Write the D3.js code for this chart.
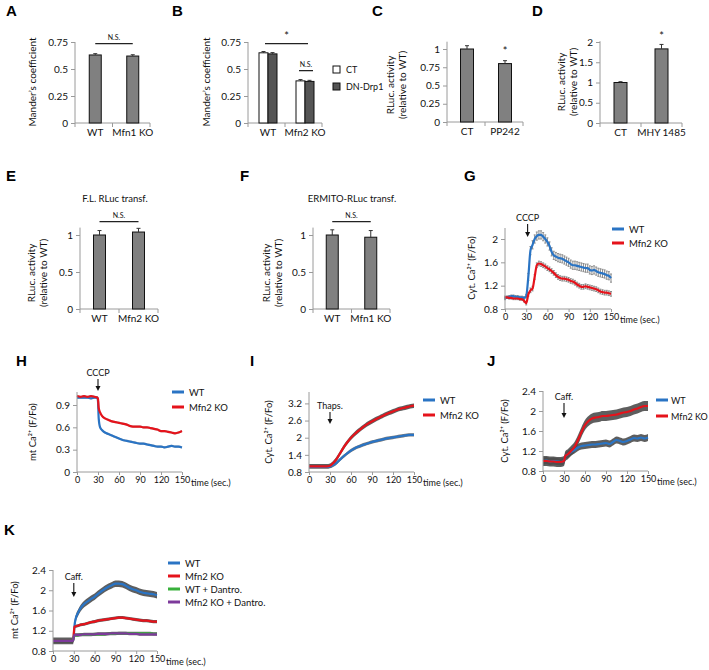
<!DOCTYPE html>
<html><head><meta charset="utf-8">
<script src="https://cdn.jsdelivr.net/npm/d3@7"></script>
<style>body{margin:0;background:#fff}</style>
</head><body><svg id="c" width="709" height="670"></svg>
<script>
// ---------------- DATA ----------------
const catsA = ["WT", "Mfn1 KO"], valsA = [0.63, 0.62], errA = [0.012, 0.012];
const catsB = ["WT", "Mfn2 KO"], groupsB = ["CT", "DN-Drp1"];
const valsB_CT = [0.65, 0.39], errB_CT = [0.012, 0.012];
const valsB_DN = [0.64, 0.385], errB_DN = [0.012, 0.01];
const catsC = ["CT", "PP242"], valsC = [1.0, 0.80], errC = [0.045, 0.04];
const catsD = ["CT", "MHY 1485"], valsD = [1.0, 1.83], errD = [0.02, 0.11];
const catsE = ["WT", "Mfn2 KO"], valsE = [1.0, 1.04], errE = [0.06, 0.05];
const catsF = ["WT", "Mfn1 KO"], valsF = [1.0, 0.97], errF = [0.07, 0.09];
const ticksA = [0, 0.25, 0.5, 0.75], ticksC = [0, 0.25, 0.5, 0.75, 1], ticksD = [0, 0.5, 1, 1.5, 2], ticksE = [0, 0.5, 1];
const timeTicks = [0, 30, 60, 90, 120, 150];

// G : cytosolic Ca2+ after CCCP
const tG = [0,3,6,9,12,15,18,21,24,27,30,33,36,39,42,45,48,51,54,57,60,63,66,69,72,75,78,81,84,87,90,93,96,99,102,105,108,111,114,117,120,123,126,129,132,135,138,141,144,147,150];
const wtG = [0.98,1.0,1.01,1.02,1.02,1.01,1.01,1.0,1.0,0.99,1.02,1.35,1.8,1.9,2.0,2.05,2.07,2.07,2.04,2.0,1.95,1.88,1.78,1.72,1.7,1.68,1.67,1.66,1.64,1.62,1.6,1.57,1.55,1.55,1.54,1.53,1.52,1.51,1.5,1.5,1.47,1.46,1.47,1.45,1.43,1.42,1.41,1.4,1.38,1.37,1.33];
const wtGerr = [0.02,0.02,0.02,0.02,0.02,0.02,0.02,0.02,0.02,0.02,0.03,0.06,0.07,0.07,0.07,0.07,0.07,0.07,0.07,0.07,0.07,0.07,0.07,0.07,0.07,0.07,0.07,0.07,0.07,0.07,0.07,0.07,0.07,0.07,0.07,0.07,0.07,0.07,0.07,0.07,0.07,0.07,0.07,0.07,0.07,0.07,0.07,0.07,0.07,0.07,0.07];
const koG = [1.0,1.0,0.99,0.99,0.98,0.98,0.98,0.97,0.97,0.94,0.9,1.05,1.12,1.15,1.35,1.55,1.58,1.57,1.55,1.53,1.5,1.48,1.45,1.42,1.38,1.35,1.33,1.32,1.32,1.31,1.3,1.28,1.27,1.25,1.22,1.2,1.18,1.18,1.19,1.18,1.17,1.16,1.15,1.14,1.12,1.1,1.09,1.08,1.08,1.07,1.06];
const koGerr = [0.02,0.02,0.02,0.02,0.02,0.02,0.02,0.02,0.02,0.02,0.03,0.03,0.04,0.04,0.04,0.04,0.04,0.04,0.04,0.04,0.04,0.04,0.04,0.04,0.04,0.04,0.04,0.04,0.04,0.04,0.04,0.04,0.04,0.04,0.04,0.04,0.04,0.04,0.04,0.04,0.04,0.04,0.04,0.04,0.04,0.04,0.04,0.04,0.04,0.04,0.04];

// H : mitochondrial Ca2+ after CCCP
const tH = [0,5,10,15,20,25,29,30,31,33,36,40,45,50,55,60,65,70,75,80,85,90,95,100,105,110,115,120,125,130,135,140,145,150];
const wtH = [1.0,1.0,1.0,1.0,0.99,1.0,1.0,0.95,0.72,0.6,0.56,0.53,0.51,0.49,0.47,0.45,0.43,0.42,0.41,0.4,0.39,0.38,0.38,0.37,0.36,0.35,0.34,0.34,0.33,0.34,0.35,0.34,0.34,0.33];
const koH = [1.02,1.01,1.02,1.01,1.02,1.01,1.0,0.98,0.86,0.8,0.75,0.72,0.7,0.68,0.67,0.66,0.65,0.64,0.62,0.61,0.61,0.61,0.6,0.6,0.59,0.58,0.57,0.55,0.55,0.54,0.53,0.52,0.53,0.55];
const errH = 0.015;

// I : cytosolic Ca2+ after thapsigargin
const tI = [0,5,10,15,20,25,30,35,40,45,50,55,60,65,70,75,80,85,90,95,100,105,110,115,120,125,130,135,140,145,150];
const wtI = [0.98,0.98,0.98,0.98,0.98,0.98,0.99,1.04,1.13,1.25,1.36,1.46,1.55,1.62,1.68,1.73,1.77,1.81,1.85,1.88,1.91,1.94,1.97,1.99,2.01,2.03,2.05,2.07,2.09,2.1,2.1];
const koI = [1.0,1.0,1.0,1.0,1.0,1.0,1.02,1.12,1.28,1.48,1.68,1.85,2.0,2.12,2.23,2.33,2.42,2.5,2.57,2.64,2.7,2.76,2.82,2.87,2.92,2.97,3.01,3.04,3.07,3.1,3.12];
const wtIerr = 0.06, koIerr = 0.08;

// J : cytosolic Ca2+ after caffeine
const tJ = [0,5,10,15,20,25,30,32,35,40,45,50,55,60,65,70,75,80,85,90,95,100,105,110,115,120,125,130,135,140,145,150];
const wtJ = [1.0,1.01,0.99,1.0,0.99,0.98,1.0,1.1,1.13,1.18,1.22,1.27,1.3,1.31,1.32,1.33,1.33,1.34,1.35,1.36,1.34,1.38,1.42,1.4,1.38,1.4,1.43,1.46,1.45,1.47,1.45,1.47];
const koJ = [1.0,1.0,0.99,0.99,0.98,0.98,1.0,1.1,1.13,1.2,1.28,1.42,1.58,1.72,1.8,1.85,1.87,1.88,1.9,1.9,1.91,1.92,1.93,1.95,1.97,1.98,2.0,2.03,2.05,2.08,2.1,2.1];
const wtJerr = 0.07, koJerr = 0.1;

// K : mitochondrial Ca2+ after caffeine (+/- dantrolene)
const tK = [0,5,10,15,20,25,29,30,31,33,36,40,45,50,55,60,65,70,75,80,85,90,95,100,105,110,115,120,125,130,135,140,145,150];
const wtK = [1.0,1.0,1.0,1.0,1.0,1.0,1.0,1.1,1.3,1.45,1.55,1.65,1.73,1.78,1.83,1.87,1.93,1.98,2.03,2.07,2.1,2.13,2.13,2.12,2.09,2.05,2.02,2.0,1.97,1.95,1.94,1.93,1.92,1.9];
const koK = [1.0,1.0,1.0,1.0,1.0,1.0,1.0,1.15,1.28,1.29,1.3,1.32,1.33,1.35,1.37,1.38,1.4,1.41,1.42,1.43,1.44,1.45,1.46,1.46,1.45,1.44,1.43,1.42,1.41,1.4,1.4,1.39,1.38,1.38];
const wtDK = [1.0,1.0,1.0,1.0,1.0,1.0,1.0,1.08,1.11,1.11,1.11,1.12,1.12,1.12,1.12,1.13,1.13,1.13,1.13,1.14,1.14,1.14,1.15,1.15,1.15,1.15,1.15,1.15,1.15,1.15,1.15,1.15,1.14,1.14];
const koDK = [1.0,1.0,1.0,1.0,1.0,1.0,1.0,1.08,1.12,1.12,1.12,1.12,1.13,1.13,1.13,1.13,1.14,1.14,1.14,1.14,1.15,1.15,1.15,1.15,1.15,1.14,1.14,1.14,1.13,1.13,1.13,1.13,1.13,1.13];
const wtKerr = 0.065, koKerr = 0.03, dKerr = 0.03;

const seriesNames = ["WT", "Mfn2 KO"];
const seriesNamesK = ["WT", "Mfn2 KO", "WT + Dantro.", "Mfn2 KO +  Dantro."];

// ---------------- STYLE ----------------
const BLUE = "#2a74c4", RED = "#e5131b", GREEN = "#38b03b", PURPLE = "#7d3a9b";
const BARGREY = "#808080", AXIS = "#9a9a9a", BAND = "#4d4d4d";
const FONT = "Lato, 'Open Sans', 'Liberation Sans', sans-serif";
const svg = d3.select("#c");

function txt(x, y, s, size, anchor) {
  return svg.append("text").attr("x", x).attr("y", y).attr("font-family", FONT)
    .attr("font-size", size).attr("text-anchor", anchor || "start").attr("fill", "#111").text(s);
}
function panelLabel(x, y, s) {
  svg.append("text").attr("x", x).attr("y", y).attr("font-family", "'Liberation Sans', Arial, sans-serif")
    .attr("font-weight", "bold").attr("font-size", 15).text(s);
}
function yTitle(xBase, cy, lines, size) {
  lines.forEach((l, i) => {
    svg.append("text").attr("transform", `translate(${xBase + i * (size + 1.5)},${cy}) rotate(-90)`)
      .attr("text-anchor", "middle").attr("font-family", FONT).attr("font-size", size).attr("fill", "#111").text(l);
  });
}
function styleAxis(g, size) {
  g.select(".domain").remove();
  g.selectAll(".tick line").attr("stroke", AXIS);
  g.selectAll(".tick text").attr("font-family", FONT).attr("font-size", size).attr("fill", "#111");
}

// ---------------- BAR PANELS ----------------
function barPanel(o) {
  const y = d3.scaleLinear().domain([0, o.tmax]).range([o.y0, o.yT]);
  const x = d3.scaleBand().domain(o.cats).range([o.x0, o.x1]);
  const ga = svg.append("g").attr("transform", `translate(${o.x0},0)`)
    .call(d3.axisLeft(y).tickValues(o.ticks).tickSize(4).tickPadding(3).tickFormat(d => String(d)));
  styleAxis(ga, 10);
  svg.append("line").attr("x1", o.x0).attr("x2", o.x0).attr("y1", y(0)).attr("y2", y(o.dtop)).attr("stroke", AXIS);
  svg.append("line").attr("x1", o.x0).attr("x2", o.x1).attr("y1", y(0)).attr("y2", y(0)).attr("stroke", AXIS);
  const bounds = [o.x0, x(o.cats[1]), o.x1];
  bounds.forEach(b => svg.append("line").attr("x1", b).attr("x2", b).attr("y1", y(0)).attr("y2", y(0) + 4).attr("stroke", AXIS));
  const groups = o.groups;
  const sub = d3.scaleBand().domain(groups.map(g => g.name)).range([-o.bw * groups.length / 2, o.bw * groups.length / 2]);
  groups.forEach(gr => {
    o.cats.forEach((c, i) => {
      const cx = x(c) + x.bandwidth() / 2 + (o.shift || 0);
      const bx = cx + sub(gr.name);
      const v = gr.vals[i], e = gr.errs[i];
      svg.append("rect").attr("x", bx).attr("y", y(v)).attr("width", sub.bandwidth()).attr("height", y(0) - y(v))
        .attr("fill", gr.fill).attr("stroke", "#111").attr("stroke-width", 1);
      const ex = bx + sub.bandwidth() / 2;
      svg.append("line").attr("x1", ex).attr("x2", ex).attr("y1", y(v + e)).attr("y2", y(v)).attr("stroke", "#333");
      svg.append("line").attr("x1", ex - 2).attr("x2", ex + 2).attr("y1", y(v + e)).attr("y2", y(v + e)).attr("stroke", "#333");
    });
  });
  o.cats.forEach(c => {
    const cx = x(c) + x.bandwidth() / 2 + (o.shift || 0);
    txt(cx, y(0) + 13, c, 10, "middle");
  });
  (o.sig || []).forEach(s => {
    const xa = x(o.cats[s.a]) + x.bandwidth() / 2 + (o.shift || 0) + s.da;
    const xb = x(o.cats[s.b]) + x.bandwidth() / 2 + (o.shift || 0) + s.db;
    if (s.line) svg.append("line").attr("x1", xa).attr("x2", xb).attr("y1", y(s.v)).attr("y2", y(s.v)).attr("stroke", "#222").attr("stroke-width", 1.3);
    txt((xa + xb) / 2, y(s.v) - 4, s.label, s.size, "middle");
  });
  return { x, y };
}

// A
panelLabel(6, 16, "A");
barPanel({ x0: 75, x1: 150, y0: 123, yT: 42, tmax: 0.75, dtop: 0.75, ticks: ticksA, cats: catsA, bw: 12, shift: 1.5,
  groups: [{ name: "s", vals: valsA, errs: errA, fill: BARGREY }],
  sig: [{ a: 0, b: 1, da: 0, db: 0, v: 0.735, label: "N.S.", size: 7, line: true }] });
yTitle(36, 82, ["Mander\u2019s coefficient"], 10);

// B
panelLabel(172, 16, "B");
barPanel({ x0: 248, x1: 322, y0: 123, yT: 42, tmax: 0.75, dtop: 0.75, ticks: ticksA, cats: catsB, bw: 9, shift: 1.5,
  groups: [{ name: groupsB[0], vals: valsB_CT, errs: errB_CT, fill: "#fff" }, { name: groupsB[1], vals: valsB_DN, errs: errB_DN, fill: "#555" }],
  sig: [{ a: 0, b: 1, da: -3, db: 3, v: 0.735, label: "*", size: 11, line: true },
        { a: 1, b: 1, da: -6, db: 8, v: 0.485, label: "N.S.", size: 7, line: true }] });
yTitle(210, 82, ["Mander\u2019s coefficient"], 10);
groupsB.forEach((g, i) => {
  svg.append("rect").attr("x", 333).attr("y", 66 + i * 17).attr("width", 7).attr("height", 7)
    .attr("fill", i === 0 ? "#fff" : "#555").attr("stroke", "#111");
  txt(346, 73 + i * 17, g, 9, "start");
});

// C
panelLabel(372, 16, "C");
barPanel({ x0: 447, x1: 523, y0: 122, yT: 49, tmax: 1, dtop: 1.1, ticks: ticksC, cats: catsC, bw: 13, shift: 1,
  groups: [{ name: "s", vals: valsC, errs: errC, fill: BARGREY }],
  sig: [{ a: 1, b: 1, da: 0, db: 0, v: 0.86, label: "*", size: 11, line: false }] });
yTitle(394, 85, ["RLuc. activity", "(relative to WT)"], 10);

// D
panelLabel(532, 16, "D");
barPanel({ x0: 600, x1: 682, y0: 123, yT: 42, tmax: 2, dtop: 2.02, ticks: ticksD, cats: catsD, bw: 13, shift: 0,
  groups: [{ name: "s", vals: valsD, errs: errD, fill: BARGREY }],
  sig: [{ a: 1, b: 1, da: 0, db: 0, v: 1.95, label: "*", size: 11, line: false }] });
yTitle(565, 82, ["RLuc. activity", "(relative to WT)"], 10);

// E
panelLabel(6, 181, "E");
txt(115, 202, "F.L. RLuc transf.", 9.5, "middle");
barPanel({ x0: 80, x1: 158, y0: 309, yT: 235, tmax: 1, dtop: 1.1, ticks: ticksE, cats: catsE, bw: 12, shift: 0,
  groups: [{ name: "s", vals: valsE, errs: errE, fill: BARGREY }],
  sig: [{ a: 0, b: 1, da: 0, db: 0, v: 1.18, label: "N.S.", size: 7, line: true }] });
yTitle(35, 273, ["RLuc. activity", "(relative to WT)"], 10);

// F
panelLabel(240, 181, "F");
txt(352, 202, "ERMITO-RLuc transf.", 9.5, "middle");
barPanel({ x0: 313, x1: 390, y0: 309, yT: 235, tmax: 1, dtop: 1.1, ticks: ticksE, cats: catsF, bw: 12, shift: 0,
  groups: [{ name: "s", vals: valsF, errs: errF, fill: BARGREY }],
  sig: [{ a: 0, b: 1, da: 0, db: 0, v: 1.18, label: "N.S.", size: 7, line: true }] });
yTitle(270, 273, ["RLuc. activity", "(relative to WT)"], 10);

// ---------------- LINE PANELS ----------------
function linePanel(o) {
  const x = d3.scaleLinear().domain([0, 150]).range([o.x0, o.x1]);
  const y = d3.scaleLinear().domain(o.ydom).range([o.yB, o.yT]);
  o.series.forEach(s => {
    const pts = s.t.map((t, i) => ({ t, v: s.v[i], e: Array.isArray(s.e) ? s.e[i] : s.e }));
    if (o.bars) {
      pts.forEach(p => {
        svg.append("line").attr("x1", x(p.t)).attr("x2", x(p.t)).attr("y1", y(p.v - p.e)).attr("y2", y(p.v + p.e))
          .attr("stroke", "#8c8c8c").attr("stroke-width", 1);
        [p.v - p.e, p.v + p.e].forEach(q => svg.append("line").attr("x1", x(p.t) - 1).attr("x2", x(p.t) + 1)
          .attr("y1", y(q)).attr("y2", y(q)).attr("stroke", "#8c8c8c"));
      });
    } else {
      const area = d3.area().x(p => x(p.t)).y0(p => y(p.v - p.e)).y1(p => y(p.v + p.e)).curve(d3.curveMonotoneX);
      svg.append("path").datum(pts).attr("d", area).attr("fill", BAND).attr("opacity", s.bandOp || 0.85);
    }
  });
  o.series.forEach(s => {
    const pts = s.t.map((t, i) => ({ t, v: s.v[i] }));
    const line = d3.line().x(p => x(p.t)).y(p => y(p.v)).curve(d3.curveMonotoneX);
    svg.append("path").datum(pts).attr("d", line).attr("fill", "none").attr("stroke", s.color).attr("stroke-width", 2.2);
  });
  const gy = svg.append("g").attr("transform", `translate(${o.x0},0)`)
    .call(d3.axisLeft(y).tickValues(o.yticks).tickSize(4).tickPadding(3).tickFormat(d => String(d)));
  styleAxis(gy, 10);
  svg.append("line").attr("x1", o.x0).attr("x2", o.x0).attr("y1", o.yB).attr("y2", o.yTop).attr("stroke", AXIS);
  const gx = svg.append("g").attr("transform", `translate(0,${o.yB})`)
    .call(d3.axisBottom(x).tickValues(timeTicks).tickSize(3).tickPadding(2));
  styleAxis(gx, 9);
  svg.append("line").attr("x1", o.x0).attr("x2", o.x1).attr("y1", o.yB).attr("y2", o.yB).attr("stroke", AXIS);
  txt(o.x1 + 9, o.yB + 13.5, "time (sec.)", 9, "start");
  const ax = x(o.arrow.t);
  txt(ax, o.arrow.yText, o.arrow.label, 9, "middle");
  svg.append("line").attr("x1", ax).attr("x2", ax).attr("y1", o.arrow.y1).attr("y2", o.arrow.y2 - 4).attr("stroke", "#111").attr("stroke-width", 1.1);
  svg.append("path").attr("d", `M${ax - 2.5},${o.arrow.y2 - 5} L${ax + 2.5},${o.arrow.y2 - 5} L${ax},${o.arrow.y2} Z`).attr("fill", "#111");
  o.series.forEach((s, i) => {
    const ly = o.leg.y + i * o.leg.dy;
    svg.append("line").attr("x1", o.leg.x).attr("x2", o.leg.x + 12).attr("y1", ly).attr("y2", ly).attr("stroke", s.color).attr("stroke-width", 3);
    txt(o.leg.x + (o.leg.gap || 17), ly + 3.5, s.name, o.leg.fs || 9.5, "start");
  });
}

// G
panelLabel(464, 181, "G");
linePanel({ x0: 505, x1: 611, yB: 309, yT: 239, ydom: [0.8, 2], yTop: 228, yticks: [0.8, 1.2, 1.6, 2],
  bars: true,
  series: [{ name: seriesNames[0], t: tG, v: wtG, e: wtGerr, color: BLUE }, { name: seriesNames[1], t: tG, v: koG, e: koGerr, color: RED }],
  arrow: { t: 32, label: "CCCP", yText: 221, y1: 224, y2: 237 },
  leg: { x: 612, y: 229, dy: 14 } });
yTitle(475, 268, ["Cyt. Ca\u00B2\u207A (F/Fo)"], 9.5);

// H
panelLabel(16, 366, "H");
linePanel({ x0: 77, x1: 182, yB: 472, yT: 405, ydom: [0, 0.9], yTop: 392, yticks: [0, 0.3, 0.6, 0.9],
  series: [{ name: seriesNames[0], t: tH, v: wtH, e: errH, color: BLUE, bandOp: 0.4 }, { name: seriesNames[1], t: tH, v: koH, e: errH, color: RED, bandOp: 0.4 }],
  arrow: { t: 30, label: "CCCP", yText: 376, y1: 379, y2: 391 },
  leg: { x: 172, y: 392, dy: 15 } });
yTitle(36, 432, ["mt Ca\u00B2\u207A (F/Fo)"], 9.5);

// I
panelLabel(250, 366, "I");
linePanel({ x0: 309, x1: 414, yB: 472, yT: 403.4, ydom: [0.8, 3.2], yTop: 392, yticks: [0.8, 1.4, 2, 2.6, 3.2],
  series: [{ name: seriesNames[0], t: tI, v: wtI, e: wtIerr, color: BLUE, bandOp: 0.75 }, { name: seriesNames[1], t: tI, v: koI, e: koIerr, color: RED, bandOp: 0.9 }],
  arrow: { t: 30, label: "Thaps.", yText: 409, y1: 412, y2: 424 },
  leg: { x: 423, y: 400, dy: 15 } });
yTitle(272, 432, ["Cyt. Ca\u00B2\u207A (F/Fo)"], 9.5);

// J
panelLabel(487, 366, "J");
linePanel({ x0: 543, x1: 648, yB: 471, yT: 391, ydom: [0.8, 2.4], yTop: 391, yticks: [0.8, 1.2, 1.6, 2, 2.4],
  series: [{ name: seriesNames[0], t: tJ, v: wtJ, e: wtJerr, color: BLUE, bandOp: 0.9 }, { name: seriesNames[1], t: tJ, v: koJ, e: koJerr, color: RED, bandOp: 0.9 }],
  arrow: { t: 30, label: "Caff.", yText: 400, y1: 403, y2: 418 },
  leg: { x: 656, y: 400, dy: 16, gap: 15, fs: 9 } });
yTitle(508, 431, ["Cyt. Ca\u00B2\u207A (F/Fo)"], 9.5);

// K
panelLabel(4, 535, "K");
linePanel({ x0: 53, x1: 157, yB: 651, yT: 570, ydom: [0.8, 2.4], yTop: 570, yticks: [0.8, 1.2, 1.6, 2, 2.4],
  series: [{ name: seriesNamesK[0], t: tK, v: wtK, e: wtKerr, color: BLUE, bandOp: 0.9 },
           { name: seriesNamesK[1], t: tK, v: koK, e: koKerr, color: RED, bandOp: 0.9 },
           { name: seriesNamesK[2], t: tK, v: wtDK, e: dKerr, color: GREEN, bandOp: 0.8 },
           { name: seriesNamesK[3], t: tK, v: koDK, e: dKerr, color: PURPLE, bandOp: 0.8 }],
  arrow: { t: 30, label: "Caff.", yText: 580, y1: 583, y2: 597 },
  leg: { x: 168, y: 563, dy: 13 } });
yTitle(18, 610, ["mt Ca\u00B2\u207A (F/Fo)"], 9.5);
</script></body></html>
